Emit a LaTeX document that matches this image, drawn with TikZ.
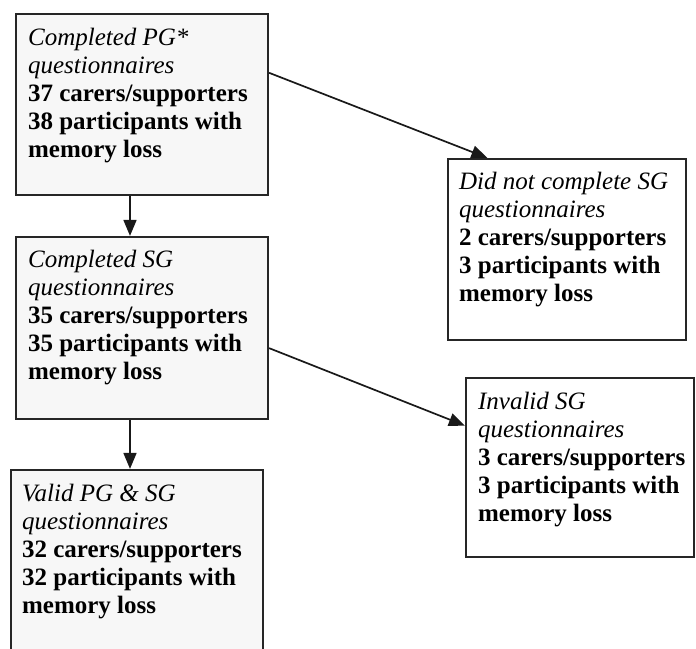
\documentclass[tikz,border=0pt]{standalone}
\usepackage{fontspec}
\setmainfont{Liberation Serif}
\usetikzlibrary{arrows.meta,calc}
\begin{document}
\begin{tikzpicture}[x=1pt,y=-1pt,
  box/.style={draw=black!85,line width=2.2pt,inner sep=0pt,rectangle},
  shaded/.style={fill=black!3},
  txt/.style={anchor=north west,inner sep=0pt,align=left,
    font=\fontsize{25}{28}\selectfont},
  arr/.style={draw=black!90,line width=1.7pt,-{Triangle[length=16pt,width=13pt]}}]
\clip (0,0) rectangle (696,648);
\fill[white] (0,0) rectangle (696,648);
% boxes
\node[box,shaded,minimum width=252pt,minimum height=181pt] (b1) at (142,104.5) {};
\node[box,minimum width=238pt,minimum height=181pt] (b2) at (567,249.5) {};
\node[box,shaded,minimum width=252pt,minimum height=182pt] (b3) at (142,328) {};
\node[box,shaded,minimum width=252pt,minimum height=190pt] (b4) at (137,565) {};
\node[box,minimum width=228pt,minimum height=179pt] (b5) at (580,467.5) {};
% texts
\node[txt] (t1) at ($(b1.north west)+(13,15)$) {\textit{Completed PG*}\\\textit{questionnaires}\\\textbf{37 carers/supporters}\\\textbf{38 participants with}\\\textbf{memory loss}};
\node[txt] (t2) at ($(b2.north west)+(12,14)$) {\textit{Did not complete SG}\\\textit{questionnaires}\\\textbf{2 carers/supporters}\\\textbf{3 participants with}\\\textbf{memory loss}};
\node[txt] (t3) at ($(b3.north west)+(13,14)$) {\textit{Completed SG}\\\textit{questionnaires}\\\textbf{35 carers/supporters}\\\textbf{35 participants with}\\\textbf{memory loss}};
\node[txt] (t4) at ($(b4.north west)+(12,15)$) {\textit{Valid PG \& SG}\\\textit{questionnaires}\\\textbf{32 carers/supporters}\\\textbf{32 participants with}\\\textbf{memory loss}};
\node[txt] (t5) at ($(b5.north west)+(13,15)$) {\textit{Invalid SG}\\\textit{questionnaires}\\\textbf{3 carers/supporters}\\\textbf{3 participants with}\\\textbf{memory loss}};
% arrows
\draw[arr] ($(b1.south)+(-12,0)$) -- ($(b3.north)+(-12,0)$);
\draw[arr] ($(b3.south)+(-12,0)$) -- ($(b4.north)+(-7,0)$);
\draw[arr] (b1.14.5) -- (b2.131.5);
\draw[arr] (b3.-9) -- (b5.160.4);
\end{tikzpicture}
\end{document}
